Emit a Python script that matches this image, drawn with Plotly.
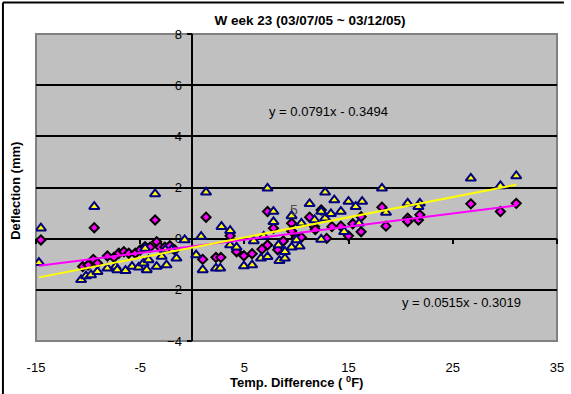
import plotly.graph_objects as go

# Gauge readings: temperature difference (deg F) vs deflection (mm)
tri_x = [-14.53, -14.72, -9.41, -3.57, -10.67, -10.2, -9.72, -9.1, -8.15, -7.36,
         -7.2, -6.41, -5.78, -5.15, -4.68, -4.37, -4.2, -3.42, -2.94, -2.47,
         -2.0, -1.52, -0.73, -4.53, -2.6, 0.37, 0.85, 1.0,
         1.32, 7.22, 12.75, 18.2, 2.8, 3.63, 3.63, 4.25, 2.27, 2.68, 4.95, 5.74,
         6.59, 7.22, 5.9, 6.85, 7.79, 7.79, 8.27, 8.36, 8.89, 8.89, 9.53, 9.53,
         10.0, 10.3, 10.47, 11.26, 11.73, 12.37, 12.37, 12.75, 13.3, 13.63, 14.26,
         14.57, 14.99, 15.68, 16.3, 16.0, 18.59,
         20.67, 21.84, 21.7, 26.73, 29.57, 31.09]
tri_y = [0.41, -0.94, 1.25, 1.75, -1.61, -1.46, -1.42, -1.29, -1.16, -1.09,
         -1.22, -1.25, -1.09, -1.12, -0.96, -1.22, -0.83, -1.09, -0.70, -1.03,
         -0.44, -0.77, -0.05, -0.38, -0.44, -0.64, 0.08, -1.22,
         1.81, 1.97, 1.81, 1.97, 0.47, 0.31, -0.25, -0.34, -1.16, -1.16, -1.07, -1.03,
         -0.77, -0.71, -0.09, 0.09, 1.06, 0.66, -0.25, -0.86, -0.77, -0.51, 0.89, -0.34,
         -0.05, -0.30, 0.60, 1.36, 0.73, 1.06, -0.03, 0.80, 0.97, 1.51, 1.06,
         0.27, 1.45, 1.25, 1.45, 0.60, 1.02,
         1.38, 1.38, 1.25, 2.36, 2.06, 2.45]

dia_x = [-14.53, -9.41, -3.57, -10.52, -10.0, -9.5, -9.1, -8.15, -7.52, -7.05,
         -6.57, -6.1, -5.47, -5.0, -4.53, -4.05, -3.42, -3.1, -2.63, -2.15,
         -1.68, 1.0, 1.32,
         2.27, 2.74, 3.63, 4.25, 4.95, 5.74, 6.69, 7.22, 7.22, 7.79, 8.2, 8.73,
         9.53, 9.53, 10.0, 10.47, 11.26, 11.73, 11.8, 12.37, 12.9, 13.4, 14.26,
         14.99, 15.4, 16.2, 16.2, 18.2, 18.59,
         20.67, 20.67, 21.7, 21.84, 26.73, 29.57, 31.09]
dia_y = [-0.05, 0.43, 0.73, -1.09, -1.03, -0.81, -0.96, -0.68, -0.73, -0.57,
         -0.51, -0.57, -0.57, -0.44, -0.31, -0.33, -0.12, -0.33, -0.33, -0.28,
         -0.44, -0.81, 0.84,
         -0.73, -0.73, 0.11, -0.51, -0.67, -0.59, -0.41, -0.25, 1.06, 0.41, -0.43, -0.09,
         0.60, 0.30, 0.05, 0.05, 0.84, 0.47, 0.36, 1.12, 0.01, 0.47, 0.49,
         0.11, 0.58, 0.27, 0.86, 1.23, 0.49,
         0.80, 0.67, 0.73, 0.93, 1.36, 1.06, 1.38]

# Linear trendlines (slope, intercept)
tri_fit = (0.0791, -0.3494)
dia_fit = (0.0515, -0.3019)

x_ticks = [-15, -5, 5, 15, 25, 35]
y_ticks = [-4, -2, 0, 2, 4, 6, 8]
grid_y = [-2, 0, 2, 4, 6]
x_range = [-15, 35]
y_range = [-4, 8]

FONT = "Liberation Sans, Arial, sans-serif"

fig = go.Figure()

fig.add_trace(go.Scatter(
    x=dia_x, y=dia_y, mode="markers",
    marker=dict(symbol="diamond", size=7, color="#FF00FF",
                line=dict(color="black", width=2)),
    hoverinfo="skip"))
fig.add_trace(go.Scatter(
    x=tri_x, y=tri_y, mode="markers",
    marker=dict(symbol="triangle-up", size=9, color="#FFFF00",
                line=dict(color="#000080", width=2)),
    hoverinfo="skip"))


def fit_line(xs, coef):
    x0, x1 = min(xs), max(xs)
    return [x0, x1], [coef[0] * x0 + coef[1], coef[0] * x1 + coef[1]]


lx, ly = fit_line(dia_x + tri_x, dia_fit)
fig.add_trace(go.Scatter(x=lx, y=ly, mode="lines",
                         line=dict(color="#FF00FF", width=2), hoverinfo="skip"))
lx, ly = fit_line(dia_x + tri_x, tri_fit)
fig.add_trace(go.Scatter(x=lx, y=ly, mode="lines",
                         line=dict(color="#FFFF00", width=2), hoverinfo="skip"))

# carriers for the bottom tick-label axis and the gridline axis
fig.add_trace(go.Scatter(x=[x_range[0]], y=[y_range[0] - 1], xaxis="x2", yaxis="y",
                         mode="markers", marker=dict(opacity=0), hoverinfo="skip"))
fig.add_trace(go.Scatter(x=[x_range[0]], y=[y_range[0] - 1], xaxis="x", yaxis="y2",
                         mode="markers", marker=dict(opacity=0), hoverinfo="skip"))

fig.update_layout(
    width=571, height=394,
    margin=dict(l=36, r=7, t=34, b=53),
    paper_bgcolor="white", plot_bgcolor="#C0C0C0",
    showlegend=False,
    font=dict(family=FONT, size=13, color="black"),
    title=dict(text="<b>W eek 23 (03/07/05 ~ 03/12/05)</b>",
               x=0.543, xref="container", xanchor="center",
               y=0.949, yref="container", yanchor="middle",
               font=dict(family=FONT, size=13.5, color="black")),
    # x axis drawn through y = 0
    xaxis=dict(range=x_range, anchor="free", position=(0 - y_range[0]) / (y_range[1] - y_range[0]),
               showline=True, linecolor="black", linewidth=1.5,
               ticks="outside", ticklen=5, tickwidth=1.5, tickcolor="black",
               tickmode="array", tickvals=x_ticks, showticklabels=False,
               showgrid=False, zeroline=False, layer="below traces"),
    # tick labels along the bottom of the plot
    xaxis2=dict(range=x_range, overlaying="x", anchor="y", side="bottom",
                showline=False, ticks="outside", ticklen=14, tickcolor="rgba(0,0,0,0)",
                tickmode="array", tickvals=x_ticks, ticktext=[str(v) for v in x_ticks],
                tickfont=dict(family=FONT, size=13, color="black"),
                ticklabeloverflow="allow",
                showgrid=False, zeroline=False),
    # y axis drawn through x = 0
    yaxis=dict(range=y_range, anchor="free", position=(0 - x_range[0]) / (x_range[1] - x_range[0]),
               side="left", showline=True, linecolor="black", linewidth=1.5,
               ticks="outside", ticklen=5, tickwidth=1.5, tickcolor="black",
               tickmode="array", tickvals=y_ticks,
               tickfont=dict(family=FONT, size=13, color="black"),
               ticklabelstandoff=2,
               showgrid=False, zeroline=False, layer="below traces"),
    # horizontal gridlines
    yaxis2=dict(range=y_range, overlaying="y", anchor="x", side="left",
                tickmode="array", tickvals=grid_y, showticklabels=False, ticks="",
                showgrid=True, gridcolor="black", gridwidth=1.5,
                showline=False, zeroline=False),
)

bot_px, plot_h, left_px, plot_w = 341, 307, 36, 528
fig.add_shape(type="rect", xref="paper", yref="paper", x0=0, x1=1, y0=0, y1=1,
              line=dict(color="#808080", width=2), layer="between")
# chart frame on the left and top edges
fig.add_shape(type="line", xref="paper", yref="paper",
              x0=(2.5 - left_px) / plot_w, x1=(2.5 - left_px) / plot_w,
              y0=(bot_px - 394) / plot_h, y1=(bot_px - 2.5) / plot_h,
              line=dict(color="black", width=2))
fig.add_shape(type="line", xref="paper", yref="paper",
              x0=(2.5 - left_px) / plot_w, x1=(571 - left_px) / plot_w,
              y0=(bot_px - 2.5) / plot_h, y1=(bot_px - 2.5) / plot_h,
              line=dict(color="black", width=2))

fig.add_annotation(text="<b>Deflection (mm)</b>", textangle=-90,
                   xref="paper", yref="paper", x=(15 - left_px) / plot_w, y=0.49,
                   xanchor="center", yanchor="middle", showarrow=False,
                   font=dict(family=FONT, size=13, color="black"))
fig.add_annotation(text="<b>Temp. Difference ( <sup>0</sup>F)</b>",
                   xref="paper", yref="paper", x=0.5, y=(bot_px - 382) / plot_h,
                   xanchor="center", yanchor="middle", showarrow=False,
                   font=dict(family=FONT, size=13, color="black"))
fig.add_annotation(text="y = %.4fx - %.4f" % (tri_fit[0], -tri_fit[1]),
                   x=13.03, y=4.99, xanchor="center", yanchor="middle", showarrow=False,
                   font=dict(family=FONT, size=13, color="black"))
fig.add_annotation(text="y = %.4fx - %.4f" % (dia_fit[0], -dia_fit[1]),
                   x=25.8, y=-2.51, xanchor="center", yanchor="middle", showarrow=False,
                   font=dict(family=FONT, size=13, color="black"))
fig.add_annotation(text="5", x=9.72, y=1.12, xanchor="center", yanchor="middle",
                   showarrow=False, font=dict(family=FONT, size=14, color="#505050"))

fig.write_html("out.html")
